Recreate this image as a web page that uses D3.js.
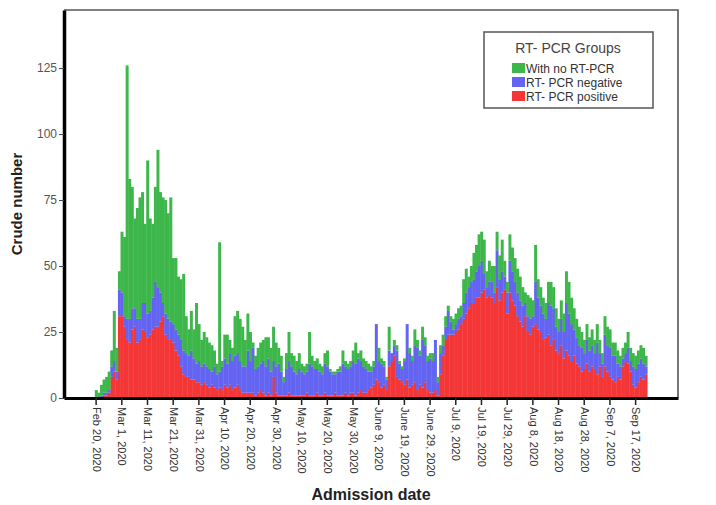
<!DOCTYPE html>
<html lang="en">
<head>
  <meta charset="UTF-8">
  <title>Admissions by RT-PCR group</title>
  <script src="https://d3js.org/d3.v7.min.js"></script>
  <style>
    body {
      margin: 0;
      background: #fff;
      font-family: Arial, "Liberation Sans", sans-serif;
    }
    .tick text {
      fill: #333;
    }
  </style>
</head>
<body>
  <svg width="716" height="505"></svg>
  <script>
    // one value per admission day, day 0 = Feb 20, 2020
    const positive = [
      0, 0, 0, 1, 1, 2, 8, 10, 7, 31,
      31, 27, 22, 21, 26, 27, 21, 22, 26, 25,
      23, 24, 26, 27, 27, 29, 31, 24, 22, 22,
      21, 18, 16, 12, 9, 8, 8, 7, 7, 6,
      6, 5, 6, 5, 4, 5, 4, 3, 4, 3,
      5, 4, 5, 3, 4, 5, 3, 2, 2, 2,
      2, 2, 1, 2, 3, 2, 1, 2, 1, 8,
      2, 1, 1, 1, 1, 2, 1, 1, 1, 1,
      1, 1, 2, 1, 1, 1, 2, 1, 1, 2,
      1, 1, 1, 2, 1, 1, 1, 2, 1, 2,
      2, 1, 2, 3, 2, 2, 3, 4, 5, 7,
      6, 4, 5, 3, 12, 14, 16, 8, 7, 6,
      5, 7, 4, 5, 6, 3, 5, 4, 6, 3,
      2, 2, 3, 1, 9, 16, 22, 24, 24, 24,
      25, 26, 28, 30, 32, 34, 36, 36, 38, 38,
      40, 41, 38, 39, 38, 36, 42, 37, 40, 41,
      32, 40, 37, 35, 31, 29, 27, 31, 25, 24,
      27, 28, 26, 25, 22, 23, 24, 20, 22, 18,
      17, 20, 15, 18, 16, 14, 16, 13, 12, 10,
      11, 13, 10, 12, 11, 9, 12, 8, 12, 10,
      8, 7, 6, 8, 7, 12, 14, 13, 10, 5,
      4, 6, 8, 7, 9
    ];
    const negative = [
      0, 0, 1, 1, 1, 1, 4, 4, 3, 10,
      9, 4, 8, 9, 8, 7, 9, 8, 10, 11,
      9, 9, 12, 17, 15, 11, 5, 8, 8, 7,
      7, 8, 8, 10, 9, 9, 8, 11, 8, 7,
      8, 7, 7, 7, 7, 5, 8, 6, 6, 9,
      10, 9, 12, 11, 12, 12, 11, 10, 10, 16,
      12, 17, 10, 10, 10, 12, 11, 13, 9, 6,
      10, 12, 9, 5, 10, 12, 11, 9, 8, 10,
      9, 8, 8, 12, 11, 10, 9, 9, 8, 11,
      11, 9, 8, 7, 9, 9, 12, 10, 10, 10,
      12, 12, 13, 11, 10, 9, 7, 6, 7, 21,
      8, 9, 7, 4, 6, 3, 4, 10, 6, 5,
      9, 21, 13, 9, 14, 16, 11, 18, 14, 11,
      13, 12, 19, 5, 8, 4, 5, 9, 5, 2,
      3, 4, 3, 6, 8, 8, 8, 9, 10, 12,
      12, 6, 4, 5, 6, 4, 14, 8, 8, 5,
      8, 12, 11, 9, 9, 8, 8, 5, 6, 6,
      4, 16, 12, 10, 10, 7, 12, 15, 12, 9,
      8, 10, 10, 18, 16, 14, 10, 10, 8, 9,
      6, 9, 8, 8, 6, 12, 5, 5, 12, 10,
      11, 9, 10, 5, 5, 3, 3, 6, 4, 7,
      7, 7, 7, 6, 3
    ];
    const noPcr = [
      3, 2, 4, 5, 6, 7, 6, 19, 9, 7,
      23, 30, 96, 53, 46, 34, 42, 46, 42, 30,
      58, 35, 28, 36, 52, 38, 40, 43, 40, 47,
      25, 27, 22, 23, 29, 14, 10, 15, 11, 23,
      14, 10, 12, 11, 10, 10, 6, 4, 49, 2,
      9, 11, 5, 5, 15, 16, 16, 15, 10, 14,
      11, 2, 5, 7, 8, 8, 11, 8, 9, 13,
      9, 6, 6, 2, 6, 11, 5, 6, 5, 6,
      3, 3, 3, 12, 4, 3, 4, 3, 3, 4,
      6, 1, 1, 1, 1, 2, 5, 2, 2, 2,
      4, 8, 2, 4, 3, 3, 3, 2, 2, 0,
      5, 2, 2, 1, 9, 0, 2, 2, 1, 1,
      1, 0, 2, 2, 6, 3, 2, 5, 3, 2,
      2, 3, 0, 2, 3, 4, 4, 2, 2, 4,
      4, 4, 4, 9, 9, 4, 6, 10, 10, 12,
      11, 13, 6, 8, 6, 10, 7, 9, 12, 6,
      4, 10, 9, 9, 9, 9, 7, 4, 8, 8,
      6, 14, 7, 7, 6, 6, 8, 9, 8, 7,
      5, 7, 7, 12, 12, 10, 8, 7, 7, 6,
      5, 6, 5, 6, 5, 7, 5, 4, 7, 7,
      7, 5, 5, 5, 4, 4, 4, 6, 5, 5,
      5, 5, 5, 6, 4
    ];

    const tickDays = [0, 10, 20, 30, 40, 50, 60, 70, 80, 90, 100,
      110, 120, 130, 140, 150, 160, 170, 180, 190, 200, 210];
    const tickLabels = ["Feb 20, 2020", "Mar 1, 2020", "Mar 11, 2020", "Mar 21, 2020",
      "Mar 31, 2020", "Apr 10, 2020", "Apr 20, 2020", "Apr 30, 2020", "May 10, 2020",
      "May 20, 2020", "May 30, 2020", "June 9, 2020", "June 19, 2020", "June 29, 2020",
      "Jul 9, 2020", "Jul 19, 2020", "Jul 29, 2020", "Aug 8, 2020", "Aug 18, 2020",
      "Aug 28, 2020", "Sep 7, 2020", "Sep 17, 2020"];
    const yTicks = [0, 25, 50, 75, 100, 125];

    // legend order (top to bottom) is the reverse of the stack order
    const groupNames = ["With no RT-PCR", "RT- PCR negative", "RT- PCR positive"];
    const groupColors = ["#3db64a", "#6464f2", "#f43636"];

    const plot = { left: 64, right: 678, top: 10, bottom: 398 };

    const svg = d3.select("svg");

    const table = positive.map((p, i) => ({
      day: i, pos: p, neg: negative[i], none: noPcr[i]
    }));

    // band per day; the axis runs from Feb 8 to Oct 3
    const x = d3.scaleBand()
      .domain(d3.range(-12, 227))
      .range([plot.left, plot.right])
      .padding(0);

    const y = d3.scaleLinear()
      .domain([0, 147])
      .range([plot.bottom, plot.top]);

    const stack = d3.stack().keys(["pos", "neg", "none"]);
    const series = stack(table);
    const color = d3.scaleOrdinal()
      .domain(["none", "neg", "pos"])
      .range(groupColors);

    // bars
    svg.append("g")
      .selectAll("g")
      .data(series)
      .join("g")
      .attr("fill", d => color(d.key))
      .selectAll("rect")
      .data(d => d)
      .join("rect")
      .attr("x", d => x(d.data.day))
      .attr("y", d => y(d[1]))
      .attr("width", x.bandwidth() + 0.4)
      .attr("height", d => y(d[0]) - y(d[1]));

    // frame: top and right borders
    svg.append("path")
      .attr("d", `M${plot.left},${plot.top}H${plot.right}V${plot.bottom}`)
      .attr("fill", "none")
      .attr("stroke", "#555")
      .attr("stroke-width", 1.6);

    // x axis
    const xAxis = svg.append("g")
      .attr("transform", `translate(0,${plot.bottom})`)
      .call(d3.axisBottom(x)
        .tickValues(tickDays)
        .tickFormat((d, i) => tickLabels[i])
        .tickSize(7)
        .tickSizeOuter(0));
    xAxis.select(".domain")
      .attr("stroke", "#000")
      .attr("stroke-width", 3);
    xAxis.selectAll(".tick line")
      .attr("stroke", "#222")
      .attr("stroke-width", 1.5);
    xAxis.selectAll("text")
      .attr("transform", "rotate(90)")
      .attr("x", 9)
      .attr("y", 0)
      .attr("dy", "0.3em")
      .style("text-anchor", "start")
      .style("font-size", "11px")
      .style("font-family", "Arial, 'Liberation Sans', sans-serif");

    // y axis
    const yAxis = svg.append("g")
      .attr("transform", `translate(${plot.left},0)`)
      .call(d3.axisLeft(y)
        .tickValues(yTicks)
        .tickSize(5)
        .tickPadding(2)
        .tickSizeOuter(0));
    yAxis.select(".domain")
      .attr("stroke", "#000")
      .attr("stroke-width", 3.5);
    yAxis.selectAll(".tick line")
      .attr("stroke", "#444");
    yAxis.selectAll("text")
      .style("font-size", "12px")
      .style("fill", "#555")
      .style("font-family", "Arial, 'Liberation Sans', sans-serif");

    // axis titles
    svg.append("text")
      .attr("x", 371)
      .attr("y", 500)
      .attr("text-anchor", "middle")
      .style("font-size", "16px")
      .style("font-weight", "bold")
      .style("fill", "#222")
      .text("Admission date");

    svg.append("text")
      .attr("transform", "translate(22,204) rotate(-90)")
      .attr("text-anchor", "middle")
      .style("font-size", "15px")
      .style("font-weight", "bold")
      .style("fill", "#222")
      .text("Crude number");

    // legend
    const legend = svg.append("g");
    legend.append("rect")
      .attr("x", 484)
      .attr("y", 32)
      .attr("width", 169)
      .attr("height", 76)
      .attr("fill", "#fff")
      .attr("stroke", "#555")
      .attr("stroke-width", 1.5);
    legend.append("text")
      .attr("x", 568)
      .attr("y", 53)
      .attr("text-anchor", "middle")
      .style("font-size", "14px")
      .style("fill", "#444")
      .text("RT- PCR Groups");

    const rows = legend.selectAll(".row")
      .data(groupNames)
      .join("g")
      .attr("class", "row")
      .attr("transform", (d, i) => `translate(512,${63 + i * 14})`);
    rows.append("rect")
      .attr("width", 13)
      .attr("height", 10)
      .attr("fill", (d, i) => groupColors[i]);
    rows.append("text")
      .attr("x", 14)
      .attr("y", 9.5)
      .style("font-size", "12px")
      .style("fill", "#333")
      .text(d => d);
  </script>
</body>
</html>
